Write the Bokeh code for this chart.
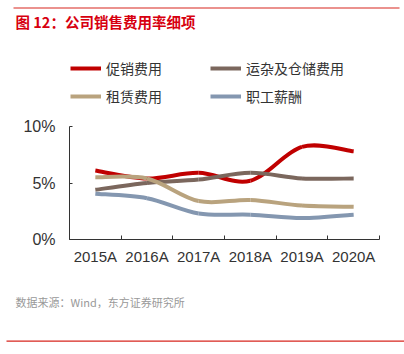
from bokeh.plotting import figure
from bokeh.models import (Label, BoxAnnotation, Legend, LegendItem, FixedTicker,
                          PrintfTickFormatter, ColumnDataSource, Range1d)
from bokeh.embed import file_html
from bokeh.resources import INLINE

# ---------------- data ----------------
years = ["2015A", "2016A", "2017A", "2018A", "2019A", "2020A"]
promo = [6.1, 5.4, 5.9, 5.2, 8.2, 7.8]          # 促销费用
freight = [4.4, 5.0, 5.3, 5.9, 5.4, 5.4]        # 运杂及仓储费用
rent = [5.5, 5.4, 3.4, 3.5, 3.0, 2.9]           # 租赁费用
staff = [4.05, 3.65, 2.3, 2.2, 1.9, 2.2]        # 职工薪酬
series_names = ["促销费用", "运杂及仓储费用", "租赁费用", "职工薪酬"]
y_ticks = [0, 5, 10]
y_min, y_max = 0, 10

colors = ["#C00000", "#7B675D", "#B9A37E", "#8497B0"]
RULE = "#D7261E"
W, H = 404, 354
# plot area (axes box) in canvas pixels
AL, AR, AT, AB = 69, 379, 126, 239

n = len(years)
x_lo, x_hi = -0.5, n - 0.5
kx = (x_hi - x_lo) / (AR - AL)
ky = (y_max - y_min) / (AB - AT)

p = figure(width=W, height=H, output_backend="svg", toolbar_location=None,
           x_range=Range1d(x_lo - AL * kx, x_hi + (W - AR) * kx),
           y_range=Range1d(y_min - (H - AB) * ky, y_max + AT * ky),
           min_border=0, min_border_left=0, min_border_right=0,
           min_border_top=0, min_border_bottom=0)
p.outline_line_color = None
p.xgrid.visible = False
p.ygrid.visible = False
p.background_fill_color = "white"
p.border_fill_color = "white"

xa = p.xaxis[0]
xa.fixed_location = y_min
xa.bounds = (x_lo, x_hi)
xa.ticker = FixedTicker(ticks=list(range(n)),
                        minor_ticks=[i - 0.5 for i in range(n + 1)])
xa.major_label_overrides = {i: y for i, y in enumerate(years)}
xa.major_tick_in = 0
xa.major_tick_out = 0
xa.minor_tick_in = 4
xa.minor_tick_out = 0
xa.minor_tick_line_color = "#333333"
xa.axis_line_color = "#333333"
xa.major_label_text_font = "Liberation Sans"
xa.major_label_text_font_size = "15px"
xa.major_label_text_color = "#333333"
xa.major_label_standoff = 8

ya = p.yaxis[0]
ya.fixed_location = x_lo
ya.bounds = (y_min, y_max)
ya.ticker = FixedTicker(ticks=y_ticks, minor_ticks=[])
ya.formatter = PrintfTickFormatter(format="%d%%")
ya.major_tick_in = 3
ya.major_tick_out = 0
ya.minor_tick_in = 0
ya.minor_tick_out = 0
ya.major_tick_line_color = "#333333"
ya.axis_line_color = "#333333"
ya.major_label_text_font = "Liberation Sans"
ya.major_label_text_font_size = "16px"
ya.major_label_text_color = "#333333"
ya.major_label_standoff = 14


def smooth_segments(ys):
    xs = list(range(len(ys)))
    m = len(ys)
    d = dict(x0=[], y0=[], x1=[], y1=[], cx0=[], cy0=[], cx1=[], cy1=[])
    for i in range(m - 1):
        pm = max(i - 1, 0)
        pp = min(i + 2, m - 1)
        d["x0"].append(xs[i]); d["y0"].append(ys[i])
        d["x1"].append(xs[i + 1]); d["y1"].append(ys[i + 1])
        d["cx0"].append(xs[i] + (xs[i + 1] - xs[pm]) / 6)
        d["cy0"].append(ys[i] + (ys[i + 1] - ys[pm]) / 6)
        d["cx1"].append(xs[i + 1] - (xs[pp] - xs[i]) / 6)
        d["cy1"].append(ys[i + 1] - (ys[pp] - ys[i]) / 6)
    return ColumnDataSource(d)


rends = []
for vals, c in zip([promo, freight, rent, staff], colors):
    r = p.bezier(x0="x0", y0="y0", x1="x1", y1="y1", cx0="cx0", cy0="cy0",
                 cx1="cx1", cy1="cy1", source=smooth_segments(vals),
                 line_color=c, line_width=4)
    rends.append(r)

# legend: 2 rows x 2 columns (column-major ordering)
order = [0, 2, 1, 3]
legend = Legend(items=[LegendItem(label=series_names[i], renderers=[rends[i]]) for i in order],
                ncols=2, location=(70, H - 54 - 56),
                glyph_width=31, glyph_height=28, label_height=28,
                label_width=104, label_standoff=5, spacing=0, padding=0, margin=0,
                border_line_color=None, background_fill_alpha=0,
                label_text_font="Noto Sans CJK SC", label_text_font_size="14px",
                label_text_color="#333333")
p.add_layout(legend, "center")


def lab(text, X, Y, **kw):
    p.add_layout(Label(x=X, y=H - Y, x_units="screen", y_units="screen",
                       text=text, text_baseline="middle", **kw))


def rule(X0, X1, Y):
    p.add_layout(BoxAnnotation(left=X0, right=X1, bottom=H - Y - 0.6, top=H - Y + 0.6,
                               left_units="screen", right_units="screen",
                               bottom_units="screen", top_units="screen",
                               fill_color=RULE, fill_alpha=1, line_color=None))


lab("图 12：公司销售费用率细项", 15, 21, text_font="Noto Sans CJK SC",
    text_font_size="14.5px", text_font_style="bold", text_color="#D7000F")
lab("数据来源：Wind，东方证券研究所", 15, 301, text_font="Noto Sans CJK SC",
    text_font_size="11px", text_color="#999999")
rule(13, 399, 7.5)
rule(6, 404, 340.7)

open("out.html", "w").write(file_html(p, INLINE))
